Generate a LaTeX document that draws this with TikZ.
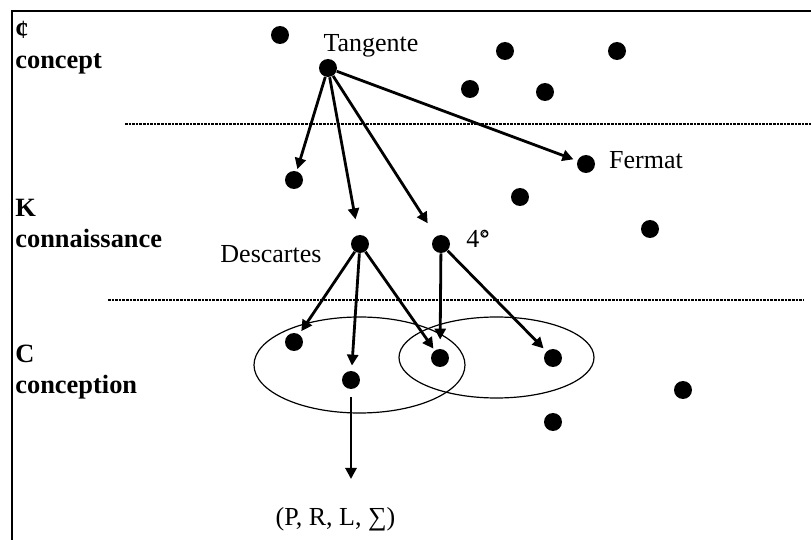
\documentclass[tikz,border=0pt]{standalone}
\usepackage{fontspec}
\setmainfont{Liberation Serif}
\usetikzlibrary{arrows.meta}

\begin{document}
\begin{tikzpicture}[x=0.5pt,y=-0.5pt,
  every node/.style={font=\fontsize{13}{15.5}\selectfont},
  >={Triangle[length=5.5pt,width=5.5pt]},
  dot/.style={circle,fill,inner sep=0pt,minimum size=9pt},
  heading/.style={anchor=base west,inner sep=0pt,font=\fontsize{13.2}{15.5}\selectfont\bfseries},
  dotname/.style={anchor=base,inner sep=0pt},
  link/.style={->,line width=1.4pt},
  divider/.style={line width=0.75pt,dash pattern=on 1.3pt off 0.5pt},
  region/.style={line width=0.6pt}
]
  \useasboundingbox (0,0) rectangle (811,540);
  \draw[line width=1.3pt] (811,11) -- (12,11) -- (12,540);

  \node[heading] (hConcSym) at (15,39) {¢};
  \node[heading] (hConc) at (15,69) {concept};
  \node[heading] (hConnSym) at (15,217) {K};
  \node[heading] (hConn) at (15,248) {connaissance};
  \node[heading] (hConcpSym) at (15,363) {C};
  \node[heading] (hConcp) at (15,394) {conception};

  \draw[divider] (125,124) -- (811,124);
  \draw[divider] (108,300) -- (803,300);

  \draw[region] (359.5,365) ellipse [x radius=52.75pt, y radius=24pt];
  \draw[region] (496.5,357.5) ellipse [x radius=48.75pt, y radius=20.25pt];

  \node[dot] (a1) at (280,35) {};
  \node[dot] (tan) at (328,68) {};
  \node[dot] (a2) at (505,51) {};
  \node[dot] (a3) at (617,51) {};
  \node[dot] (a4) at (470,89) {};
  \node[dot] (a5) at (545,92) {};
  \node[dotname] (tanName) at (371,52) {Tangente};

  \node[dot] (k1) at (294,180) {};
  \node[dot] (fer) at (586,164) {};
  \node[dot] (k2) at (520,197) {};
  \node[dot] (k3) at (650,229) {};
  \node[dot] (desc) at (360,244) {};
  \node[dot] (four) at (441,244) {};
  \node[dotname] (ferName) at (646,169) {Fermat};
  \node[dotname] (descName) at (271,263) {Descartes};
  \node[dotname] (fourName) at (478,248) {4°};
  \draw[line width=0.4pt] (485,234) circle [radius=1.2pt];

  \node[dot] (c1) at (294,342) {};
  \node[dot] (c2) at (351,380) {};
  \node[dot] (c3) at (440,358) {};
  \node[dot] (c4) at (553,358) {};
  \node[dot] (c5) at (683,390) {};
  \node[dot] (c6) at (553,422) {};

  \draw[link,shorten >=1pt] (tan) -- (k1);
  \draw[link,shorten >=7.8pt] (tan) -- (desc);
  \draw[link,shorten >=7.6pt] (tan) -- (four);
  \draw[link,shorten >=2pt] (tan) -- (fer);
  \draw[link,shorten >=1.8pt] (desc) -- (c1);
  \draw[link,shorten >=2.5pt] (desc) -- (c2);
  \draw[link,shorten >=1pt] (desc) -- (c3);
  \draw[link,shorten >=4.5pt] (four) -- (c3);
  \draw[link,shorten >=2pt] (four) -- (c4);

  \coordinate (sigEnd) at (351,479);
  \draw[link,shorten <=4pt] (c2) -- (sigEnd);
  \node[dotname] (sigName) at (335.5,526) {(P, R, L, ∑)};
\end{tikzpicture}
\end{document}
